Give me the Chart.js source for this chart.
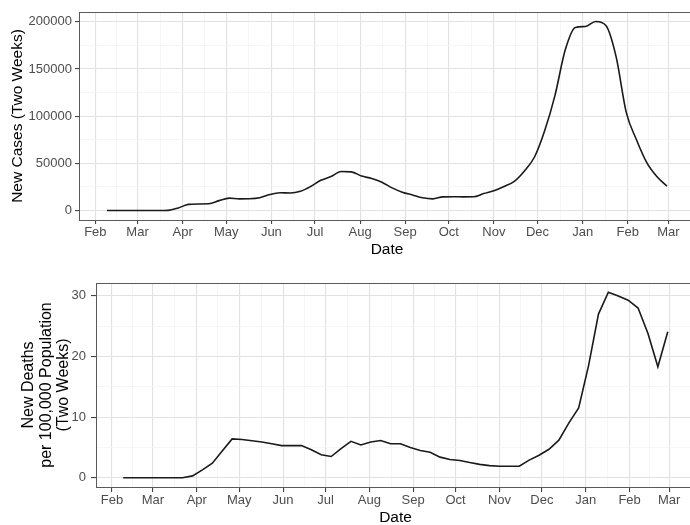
<!DOCTYPE html>
<html>
<head>
<meta charset="utf-8">
<script src="https://cdn.jsdelivr.net/npm/chart.js@4.4.0/dist/chart.umd.min.js"></script>
<style>
  html, body { margin: 0; padding: 0; background: #fff; overflow: hidden; width: 690px; height: 525px; }
  #casesBox { position: absolute; left: 0; top: 0; }
  #deathsBox { position: absolute; left: 0; top: 262px; }
</style>
</head>
<body>
<div id="casesBox"><canvas id="casesChart" width="700" height="262"></canvas></div>
<div id="deathsBox"><canvas id="deathsChart" width="700" height="270"></canvas></div>
<script>
// weekly dates (two week rolling totals)
const weekDates = [
  '2020-02-09', '2020-02-16', '2020-02-23', '2020-03-01', '2020-03-08', '2020-03-15', '2020-03-22', '2020-03-29',
  '2020-04-05', '2020-04-12', '2020-04-19', '2020-04-26', '2020-05-03', '2020-05-10', '2020-05-17', '2020-05-24',
  '2020-05-31', '2020-06-07', '2020-06-14', '2020-06-21', '2020-06-28', '2020-07-05', '2020-07-12', '2020-07-19',
  '2020-07-26', '2020-08-02', '2020-08-09', '2020-08-16', '2020-08-23', '2020-08-30', '2020-09-06', '2020-09-13',
  '2020-09-20', '2020-09-27', '2020-10-04', '2020-10-11', '2020-10-18', '2020-10-25', '2020-11-01', '2020-11-08',
  '2020-11-15', '2020-11-22', '2020-11-29', '2020-12-06', '2020-12-13', '2020-12-20', '2020-12-27', '2021-01-03',
  '2021-01-10', '2021-01-17', '2021-01-24', '2021-01-31', '2021-02-07', '2021-02-14', '2021-02-21', '2021-02-28'
]

const newCases = [
  0, 0, 0, 0, 0, 0, 200, 2800,
  6500, 7000, 7200, 10500, 13200, 12400, 12500, 13500,
  17000, 18800, 18600, 20500, 25500, 32000, 36000, 41300,
  41000, 36500, 34000, 30000, 24000, 19500, 16500, 13500,
  12400, 14500, 14600, 14500, 14600, 18000, 21000, 25500,
  31000, 42000, 57000, 85000, 122000, 170000, 194000, 195000,
  200300, 196000, 163000, 104000, 75000, 51000, 36000, 25700
]

const newDeaths = [
  0, 0, 0, 0, 0, 0, 0, 0.3,
  1.3, 2.4, 4.4, 6.4, 6.3, 6.1, 5.9, 5.6,
  5.3, 5.3, 5.3, 4.6, 3.8, 3.5, 4.8, 6.0,
  5.4, 5.9, 6.15, 5.6, 5.6, 5.0, 4.5, 4.2,
  3.4, 3.0, 2.85, 2.5, 2.2, 2.0, 1.9, 1.9,
  1.9, 2.9, 3.7, 4.7, 6.2, 9.0, 11.5, 18.5,
  27.0, 30.6, 30.0, 29.3, 28.0, 23.8, 18.3, 24.1
]

const monthStarts = [
  '2020-02-01', '2020-03-01', '2020-04-01', '2020-05-01', '2020-06-01', '2020-07-01', '2020-08-01',
  '2020-09-01', '2020-10-01', '2020-11-01', '2020-12-01', '2021-01-01', '2021-02-01', '2021-03-01'
]
const monthLabels = ['Feb', 'Mar', 'Apr', 'May', 'Jun', 'Jul', 'Aug', 'Sep', 'Oct', 'Nov', 'Dec', 'Jan', 'Feb', 'Mar']

const casesTicks = [0, 50000, 100000, 150000, 200000]
const deathsTicks = [0, 10, 20, 30]

const FONT = "'Liberation Sans', Arial, sans-serif"

function dayNum(s) {
  let p = s.split('-')
  return (Date.UTC(+p[0], +p[1] - 1, +p[2]) - Date.UTC(2020, 1, 1)) / 86400000
}

function withMinors(majors, labels) {
  let out = []
  for (let i = 0; i < majors.length; i++) {
    out.push({ value: majors[i], text: labels[i] })
    if (i < majors.length - 1) {
      out.push({ value: (majors[i] + majors[i + 1]) / 2, text: '', minor: true })
    }
  }
  return out
}

function expand(lo, hi) {
  let e = (hi - lo) * 0.05
  return [lo - e, hi + e]
}

const panelBorder = {
  id: 'panelBorder',
  afterDraw(chart) {
    let a = chart.chartArea
    let ctx = chart.ctx
    ctx.save()
    ctx.strokeStyle = '#5a5a5a'
    ctx.lineWidth = 1
    ctx.strokeRect(Math.round(a.left) + 0.5, Math.round(a.top) + 0.5,
      Math.round(a.right - a.left), Math.round(a.bottom - a.top))
    ctx.restore()
  }
}

const gridColor = ctx => (ctx.tick && ctx.tick.minor) ? '#f2f2f2' : '#e2e2e2'
const gridWidth = ctx => (ctx.tick && ctx.tick.minor) ? 0.7 : 1.1
const tickMarkColor = ctx => (ctx.tick && ctx.tick.minor) ? 'rgba(0,0,0,0)' : '#444'

function makeChart(id, values, yTicks, s) {
  let xs = weekDates.map(dayNum)
  let points = xs.map((x, i) => ({ x: x, y: values[i] }))
  let xr = expand(Math.min(...xs), Math.max(...xs))
  let yr = expand(0, Math.max(...values))
  let xTickList = withMinors(monthStarts.map(dayNum), monthLabels)
  let yTickList = withMinors(yTicks, yTicks.map(String))

  return new Chart(document.getElementById(id), {
    type: 'line',
    data: {
      datasets: [{
        data: points,
        borderColor: '#1a1a1a',
        borderWidth: 1.6,
        pointRadius: 0,
        tension: s.smooth ? 0.3 : 0,
        cubicInterpolationMode: s.smooth ? 'monotone' : 'default',
        fill: false
      }]
    },
    options: {
      responsive: false,
      animation: false,
      layout: { padding: { top: s.top, right: 5, left: 0, bottom: 0 } },
      plugins: { legend: { display: false }, tooltip: { enabled: false } },
      scales: {
        x: {
          type: 'linear',
          min: xr[0],
          max: xr[1],
          afterBuildTicks: scale => { scale.ticks = xTickList.map(t => Object.assign({}, t)) },
          afterFit: scale => { scale.height = s.xHeight },
          border: { display: false },
          grid: { color: gridColor, lineWidth: gridWidth, tickColor: tickMarkColor, tickLength: s.tickLen, drawTicks: true },
          ticks: {
            autoSkip: false, maxRotation: 0, padding: 1, color: '#4d4d4d',
            font: { family: FONT, size: 13 },
            callback: (v, i, ts) => ts[i].text || ''
          },
          title: { display: true, text: 'Date', color: '#000', font: { family: FONT, size: 15.5 }, padding: { top: 0, bottom: s.dateBottom } }
        },
        y: {
          type: 'linear',
          min: yr[0],
          max: yr[1],
          afterBuildTicks: scale => { scale.ticks = yTickList.map(t => Object.assign({}, t)) },
          afterFit: scale => { scale.width = s.yWidth },
          border: { display: false },
          grid: { color: gridColor, lineWidth: gridWidth, tickColor: tickMarkColor, tickLength: s.tickLen, drawTicks: true },
          ticks: {
            autoSkip: false, padding: s.yPad, color: '#4d4d4d',
            font: { family: FONT, size: 13 },
            callback: (v, i, ts) => ts[i].text || ''
          },
          title: {
            display: true, text: s.yTitle, color: '#000',
            font: { family: FONT, size: s.yTitleSize, lineHeight: 1.1 },
            padding: { top: s.yTitleTop, bottom: 0 }
          }
        }
      }
    },
    plugins: [panelBorder]
  })
}

makeChart('casesChart', newCases, casesTicks, {
  top: 12, xHeight: 42, yWidth: 79, tickLen: 4, yPad: 3, dateBottom: 3, smooth: true,
  yTitle: 'New Cases (Two Weeks)', yTitleSize: 15.5, yTitleTop: 9
})

makeChart('deathsChart', newDeaths, deathsTicks, {
  top: 21, xHeight: 45, yWidth: 96, tickLen: 5, yPad: 5, dateBottom: 5, smooth: false,
  yTitle: ['New Deaths', 'per 100,000 Population', '(Two Weeks)'], yTitleSize: 16, yTitleTop: 20
})
</script>
</body>
</html>
